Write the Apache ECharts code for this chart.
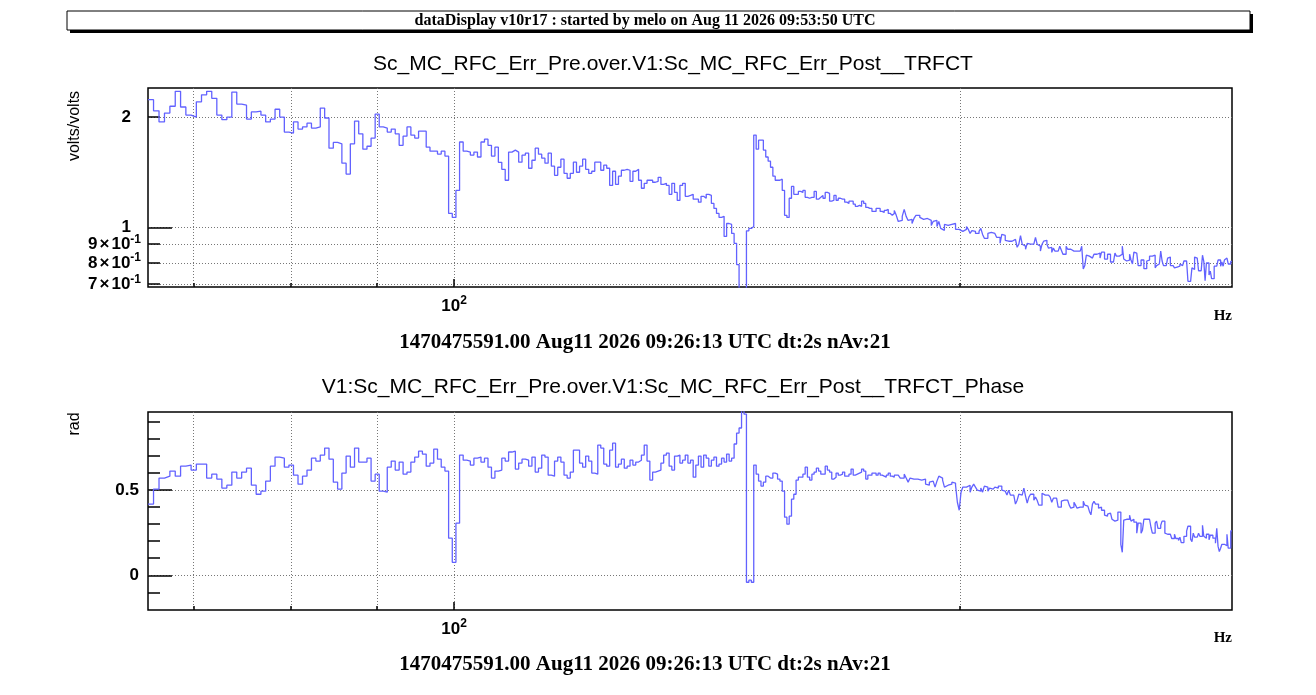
<!DOCTYPE html>
<html>
<head>
    <meta charset="utf-8">
    <title>dataDisplay</title>
    <script src="https://cdn.jsdelivr.net/npm/echarts@6/dist/echarts.min.js"></script>
    <style>html, body { margin: 0; padding: 0; background: #fff; }</style>
</head>
<body>
    <div id="main" style="width: 1316px;height:695px;"></div>
    <script type="text/javascript">

// histogram bins: 0.5 Hz wide, first bin starts at 65.75 Hz
var binStart = 65.75;
var binWidth = 0.5;

// tick / grid positions
var xGridShort = [70, 80, 90, 200];
var xGridLong = [100];
var magTicksMajor = [1];
var magTicksMinor = [0.7, 0.8, 0.9, 2];
var phaseTicksMajor = [0, 0.5];
var phaseTicksMinor = [-0.1, 0.1, 0.2, 0.3, 0.4, 0.6, 0.7, 0.8, 0.9];

// texts
var headerText = 'dataDisplay v10r17 : started by melo on Aug 11 2026 09:53:50 UTC';
var magTitle = 'Sc_MC_RFC_Err_Pre.over.V1:Sc_MC_RFC_Err_Post__TRFCT';
var phaseTitle = 'V1:Sc_MC_RFC_Err_Pre.over.V1:Sc_MC_RFC_Err_Post__TRFCT_Phase';
var footerText = '1470475591.00 Aug11 2026 09:26:13 UTC dt:2s nAv:21';

// magnitude (volts/volts), one value per bin
var magnitude = [
    2.23, 2.08, 1.94, 2.05, 2.14, 2.35, 2.13, 2.025, 2.0, 2.20,
    2.30, 2.35, 2.25, 2.025, 1.967, 2.0, 2.34, 2.17, 2.155, 1.975,
    2.065, 2.075, 2.025, 1.94, 1.975, 2.10, 2.0, 1.82, 1.808, 1.94,
    1.855, 1.88, 1.925, 1.866, 1.88, 2.116, 1.988, 1.645, 1.705, 1.69,
    1.497, 1.398, 1.69, 1.95, 1.80, 1.635, 1.665, 1.752, 2.037, 1.88,
    1.866, 1.82, 1.855, 1.80, 1.675, 1.774, 1.88, 1.785, 1.752, 1.83,
    1.83, 1.655, 1.614, 1.614, 1.585, 1.614, 1.565, 1.092, 1.065, 1.262,
    1.71, 1.614, 1.605, 1.575, 1.605, 1.556, 1.71, 1.74, 1.675, 1.565,
    1.655, 1.505, 1.44, 1.345, 1.605, 1.625, 1.605, 1.506, 1.574, 1.594,
    1.45, 1.525, 1.645, 1.584, 1.545, 1.497, 1.594, 1.469, 1.387, 1.459,
    1.535, 1.405, 1.362, 1.405, 1.506, 1.414, 1.469, 1.535, 1.44, 1.405,
    1.423, 1.506, 1.506, 1.432, 1.478, 1.45, 1.302, 1.423, 1.31, 1.38,
    1.432, 1.44, 1.432, 1.336, 1.423, 1.44, 1.345, 1.279, 1.319, 1.345,
    1.345, 1.328, 1.336, 1.37, 1.31, 1.319, 1.302, 1.231, 1.319, 1.246,
    1.185, 1.302, 1.319, 1.216, 1.223, 1.231, 1.194, 1.194, 1.172, 1.216,
    1.201, 1.231, 1.223, 1.163, 1.127, 1.092, 1.065, 1.072, 0.945, 1.025,
    1.019, 0.963, 0.905, 0.792, 0.5, 0.5, 0.5, 0.979, 0.994, 1.006,
    1.786, 1.635, 1.73, 1.73, 1.625, 1.556, 1.516, 1.459, 1.38, 1.345,
    1.345, 1.354, 1.262, 1.079, 1.065, 1.201, 1.294, 1.231, 1.231, 1.254,
    1.246, 1.262, 1.208, 1.201, 1.208, 1.208, 1.254, 1.194, 1.208, 1.223,
    1.201, 1.246, 1.238, 1.179, 1.186, 1.223, 1.186, 1.201, 1.194, 1.194,
    1.172, 1.163, 1.179, 1.179, 1.157, 1.142, 1.149, 1.142, 1.179, 1.163,
    1.134, 1.127, 1.127, 1.106, 1.106, 1.127, 1.127, 1.106, 1.099, 1.113,
    1.12, 1.092, 1.079, 1.092, 1.113, 1.079, 1.038, 1.045, 1.072, 1.12,
    1.072, 1.045, 1.052, 1.025, 1.058, 1.079, 1.079, 1.065, 1.052, 1.065,
    1.058, 1.045, 1.045, 1.013, 1.038, 1.045, 1.006, 1.038, 0.994, 0.982,
    1.019, 1.013, 1.013, 1.019, 1.013, 1.025, 0.988, 0.988, 0.982, 0.976,
    0.976, 0.988, 1.006, 0.988, 0.963, 0.98, 0.976, 0.963, 0.963, 0.976,
    0.994, 0.957, 0.934, 0.934, 0.963, 0.97, 0.97, 0.963, 0.951, 0.94,
    0.94, 0.905, 0.957, 0.951, 0.922, 0.917, 0.917, 0.917, 0.922, 0.928,
    0.917, 0.883, 0.90, 0.95, 0.90, 0.889, 0.872, 0.905, 0.90, 0.90,
    0.90, 0.905, 0.94, 0.90, 0.889, 0.862, 0.90, 0.917, 0.922, 0.90,
    0.878, 0.883, 0.855, 0.878, 0.862, 0.862, 0.862, 0.889, 0.867, 0.845,
    0.845, 0.889, 0.872, 0.872, 0.862, 0.862, 0.862, 0.862, 0.872, 0.862,
    0.862, 0.889, 0.77, 0.787, 0.84, 0.835, 0.835, 0.825, 0.835, 0.845,
    0.845, 0.851, 0.851, 0.825, 0.856, 0.856, 0.82, 0.82, 0.845, 0.845,
    0.805, 0.805, 0.805, 0.851, 0.835, 0.835, 0.845, 0.845, 0.889, 0.82,
    0.81, 0.815, 0.815, 0.845, 0.815, 0.795, 0.856, 0.851, 0.851, 0.787,
    0.787, 0.815, 0.815, 0.772, 0.772, 0.81, 0.815, 0.835, 0.835, 0.84,
    0.84, 0.776, 0.787, 0.795, 0.795, 0.862, 0.81, 0.787, 0.787, 0.787,
    0.825, 0.83, 0.787, 0.787, 0.78, 0.776, 0.78, 0.78, 0.784, 0.795,
    0.787, 0.787, 0.81, 0.81, 0.81, 0.713, 0.713, 0.713, 0.776, 0.768,
    0.83, 0.825, 0.825, 0.762, 0.762, 0.76, 0.84, 0.808, 0.716, 0.80,
    0.80, 0.742, 0.76, 0.725, 0.725, 0.784, 0.784, 0.784, 0.815, 0.815,
    0.784, 0.805, 0.784, 0.815, 0.825, 0.825, 0.795, 0.795, 0.808
];

// phase (rad), one value per bin
var phase = [
    0.418, 0.506, 0.571, 0.582, 0.612, 0.582, 0.641, 0.647, 0.618, 0.653,
    0.653, 0.571, 0.594, 0.565, 0.512, 0.529, 0.606, 0.571, 0.606, 0.629,
    0.529, 0.476, 0.494, 0.553, 0.641, 0.694, 0.688, 0.635, 0.647, 0.588,
    0.535, 0.582, 0.618, 0.688, 0.671, 0.706, 0.747, 0.682, 0.547, 0.506,
    0.60, 0.70, 0.635, 0.747, 0.665, 0.665, 0.688, 0.553, 0.594, 0.494,
    0.488, 0.635, 0.671, 0.618, 0.665, 0.594, 0.606, 0.665, 0.694, 0.729,
    0.712, 0.641, 0.659, 0.741, 0.682, 0.635, 0.612, 0.218, 0.076, 0.306,
    0.706, 0.676, 0.671, 0.647, 0.688, 0.694, 0.665, 0.688, 0.635, 0.571,
    0.612, 0.618, 0.688, 0.671, 0.724, 0.729, 0.624, 0.659, 0.682, 0.676,
    0.641, 0.694, 0.606, 0.629, 0.706, 0.694, 0.588, 0.582, 0.671, 0.694,
    0.665, 0.588, 0.571, 0.606, 0.735, 0.735, 0.659, 0.635, 0.70, 0.671,
    0.60, 0.594, 0.765, 0.747, 0.653, 0.641, 0.735, 0.776, 0.635, 0.653,
    0.682, 0.629, 0.641, 0.676, 0.647, 0.665, 0.676, 0.706, 0.765, 0.671,
    0.559, 0.606, 0.612, 0.618, 0.659, 0.706, 0.718, 0.641, 0.618, 0.70,
    0.706, 0.659, 0.676, 0.706, 0.659, 0.676, 0.576, 0.647, 0.70, 0.635,
    0.706, 0.688, 0.641, 0.676, 0.694, 0.641, 0.653, 0.688, 0.665, 0.712,
    0.671, 0.688, 0.771, 0.835, 0.865, 1.0, 0.947, -0.041, -0.029, -0.041,
    0.647, 0.594, 0.553, 0.524, 0.547, 0.582, 0.571, 0.571, 0.60, 0.594,
    0.565, 0.553, 0.494, 0.341, 0.30, 0.347, 0.447, 0.476, 0.559, 0.576,
    0.576, 0.594, 0.635, 0.576, 0.559, 0.594, 0.606, 0.629, 0.612, 0.594,
    0.594, 0.641, 0.618, 0.606, 0.565, 0.576, 0.60, 0.588, 0.594, 0.606,
    0.582, 0.582, 0.594, 0.624, 0.588, 0.594, 0.60, 0.606, 0.624, 0.612,
    0.565, 0.588, 0.588, 0.60, 0.60, 0.588, 0.60, 0.588, 0.582, 0.576,
    0.588, 0.60, 0.582, 0.576, 0.588, 0.588, 0.582, 0.571, 0.571, 0.594,
    0.571, 0.547, 0.571, 0.565, 0.559, 0.565, 0.576, 0.559, 0.565, 0.565,
    0.535, 0.529, 0.547, 0.553, 0.547, 0.518, 0.553, 0.582, 0.571, 0.559,
    0.518, 0.529, 0.529, 0.535, 0.547, 0.541, 0.529, 0.429, 0.382, 0.488,
    0.518, 0.518, 0.529, 0.529, 0.488, 0.518, 0.535, 0.518, 0.50, 0.494,
    0.512, 0.488, 0.524, 0.518, 0.494, 0.512, 0.506, 0.506, 0.518, 0.512,
    0.524, 0.524, 0.50, 0.494, 0.488, 0.471, 0.50, 0.471, 0.471, 0.471,
    0.418, 0.441, 0.476, 0.471, 0.471, 0.512, 0.465, 0.424, 0.459, 0.476,
    0.476, 0.441, 0.459, 0.441, 0.412, 0.412, 0.482, 0.471, 0.476, 0.471,
    0.471, 0.459, 0.429, 0.453, 0.453, 0.453, 0.40, 0.40, 0.435, 0.441,
    0.447, 0.441, 0.441, 0.412, 0.394, 0.40, 0.429, 0.412, 0.394, 0.40,
    0.40, 0.40, 0.435, 0.412, 0.406, 0.406, 0.375, 0.355, 0.418, 0.435,
    0.418, 0.418, 0.394, 0.40, 0.382, 0.382, 0.353, 0.347, 0.359, 0.365,
    0.365, 0.329, 0.318, 0.324, 0.324, 0.371, 0.371, 0.182, 0.135, 0.324,
    0.329, 0.329, 0.329, 0.353, 0.318, 0.329, 0.312, 0.312, 0.247, 0.306,
    0.306, 0.247, 0.265, 0.329, 0.329, 0.324, 0.329, 0.329, 0.282, 0.247,
    0.247, 0.306, 0.318, 0.276, 0.276, 0.294, 0.318, 0.318, 0.247, 0.241,
    0.241, 0.241, 0.241, 0.216, 0.216, 0.241, 0.216, 0.216, 0.204, 0.224,
    0.192, 0.192, 0.229, 0.229, 0.259, 0.288, 0.288, 0.212, 0.198, 0.247,
    0.224, 0.224, 0.224, 0.247, 0.229, 0.229, 0.294, 0.229, 0.218, 0.241,
    0.241, 0.208, 0.235, 0.235, 0.218, 0.218, 0.188, 0.276, 0.171, 0.139,
    0.159, 0.182, 0.182, 0.173, 0.173, 0.241, 0.159, 0.159, 0.261
];

// axis ranges
var xMin = 65.75, xMax = 290.25;
var magMin = 0.688, magMax = 2.40;
var phaseMin = -0.204, phaseMax = 0.959;

var sans = '"Liberation Sans", Arial, sans-serif';
var serif = '"Liberation Serif", "Times New Roman", serif';
var lineColor = '#6262ff';

// turn the per-bin values into [bin start, value] points for a step line
function steps(values) {
    var pts = values.map(function (v, i) { return [binStart + i * binWidth, v]; });
    pts.push([binStart + values.length * binWidth, values[values.length - 1]]);
    return pts;
}

var gridLine = { show: true, lineStyle: { color: '#777', type: [1, 2], width: 1 } };
var tickRich = {
    b: { fontFamily: sans, fontWeight: 'bold', fontSize: 17, color: '#000', lineHeight: 22 },
    x: { fontFamily: sans, fontWeight: 'bold', fontSize: 17, color: '#000', lineHeight: 22, padding: [0, 2, 0, 2] },
    s: { fontFamily: sans, fontWeight: 'bold', fontSize: 12, color: '#000', lineHeight: 22, verticalAlign: 'top' },
    gap: { width: 10 }
};

function xAxes(gridIndex) {
    return [{
        gridIndex: gridIndex, type: 'log', logBase: 10, min: xMin, max: xMax, position: 'bottom',
        axisLine: { show: false, onZero: false },
        axisTick: { show: true, inside: true, length: 4, customValues: xGridShort, lineStyle: { color: '#000', width: 1.5 } },
        axisLabel: { show: false },
        splitLine: gridLine
    }, {
        gridIndex: gridIndex, type: 'log', logBase: 10, min: xMin, max: xMax, position: 'bottom',
        axisLine: { show: false, onZero: false },
        axisTick: { show: true, inside: true, length: 8, customValues: xGridLong, lineStyle: { color: '#000', width: 1.5 } },
        axisLabel: {
            show: true, customValues: xGridLong, margin: 8,
            formatter: function () { return '{b|10}{s|2}'; },
            rich: tickRich
        },
        splitLine: gridLine
    }];
}

var myChart = echarts.init(document.getElementById('main'));

var option = {
    backgroundColor: '#fff',
    animation: false,
    grid: [
        { left: 148, right: 84, top: 88, height: 199, show: true, borderColor: '#000', borderWidth: 1.5, backgroundColor: 'transparent' },
        { left: 148, right: 84, top: 412, height: 198, show: true, borderColor: '#000', borderWidth: 1.5, backgroundColor: 'transparent' }
    ],
    xAxis: xAxes(0).concat(xAxes(1)),
    yAxis: [{
        gridIndex: 0, type: 'log', logBase: 10, min: magMin, max: magMax, position: 'left',
        axisLine: { show: false, onZero: false },
        axisTick: { show: true, inside: true, length: 24, customValues: magTicksMajor, lineStyle: { color: '#000', width: 1.5 } },
        axisLabel: {
            customValues: magTicksMajor, margin: 7,
            formatter: function () { return '{b|1}{gap|}'; },
            rich: tickRich
        },
        splitLine: gridLine
    }, {
        gridIndex: 0, type: 'log', logBase: 10, min: magMin, max: magMax, position: 'left',
        axisLine: { show: false, onZero: false },
        axisTick: { show: true, inside: true, length: 12, customValues: magTicksMinor, lineStyle: { color: '#000', width: 1.5 } },
        axisLabel: {
            customValues: magTicksMinor, margin: 7,
            formatter: function (v) {
                if (v > 1.5) return '{b|2}{gap|}';
                return '{b|' + Math.round(v * 10) + '}{x|\u00d7}{b|10}{s|-1}';
            },
            rich: tickRich
        },
        splitLine: gridLine
    }, {
        gridIndex: 1, type: 'value', min: phaseMin, max: phaseMax, position: 'left',
        axisLine: { show: false, onZero: false },
        axisTick: { show: true, inside: true, length: 24, customValues: phaseTicksMajor, lineStyle: { color: '#000', width: 1.5 } },
        axisLabel: {
            customValues: phaseTicksMajor, margin: 9,
            formatter: function (v) { return '{b|' + (Math.abs(v) < 1e-9 ? '0' : v) + '}'; },
            rich: tickRich
        },
        splitLine: gridLine
    }, {
        gridIndex: 1, type: 'value', min: phaseMin, max: phaseMax, position: 'left',
        axisLine: { show: false, onZero: false },
        axisTick: { show: true, inside: true, length: 12, customValues: phaseTicksMinor, lineStyle: { color: '#000', width: 1.5 } },
        axisLabel: { show: false },
        splitLine: { show: false }
    }],
    series: [{
        type: 'line', xAxisIndex: 0, yAxisIndex: 0,
        data: steps(magnitude), step: 'end', symbol: 'none', clip: true,
        lineStyle: { color: lineColor, width: 1.3 }
    }, {
        type: 'line', xAxisIndex: 2, yAxisIndex: 2,
        data: steps(phase), step: 'end', symbol: 'none', clip: true,
        lineStyle: { color: lineColor, width: 1.3 }
    }],
    graphic: [
        { type: 'rect', shape: { x: 70, y: 14, width: 1183, height: 19 }, style: { fill: '#000' } },
        { type: 'rect', shape: { x: 67, y: 11, width: 1183, height: 19 }, style: { fill: '#fff', stroke: '#000', lineWidth: 1 } },
        { type: 'text', x: 645, y: 21, style: { text: headerText, font: 'bold 16px ' + serif, textAlign: 'center', textVerticalAlign: 'middle', fill: '#000' } },
        { type: 'text', x: 673, y: 64, style: { text: magTitle, font: '21px ' + sans, textAlign: 'center', textVerticalAlign: 'middle', fill: '#000' } },
        { type: 'text', x: 673, y: 387, style: { text: phaseTitle, font: '21px ' + sans, textAlign: 'center', textVerticalAlign: 'middle', fill: '#000' } },
        { type: 'text', x: 75, y: 126, rotation: Math.PI / 2, style: { text: 'volts/volts', font: '16px ' + sans, textAlign: 'center', textVerticalAlign: 'middle', fill: '#000' } },
        { type: 'text', x: 75, y: 424, rotation: Math.PI / 2, style: { text: 'rad', font: '16px ' + sans, textAlign: 'center', textVerticalAlign: 'middle', fill: '#000' } },
        { type: 'text', x: 1232, y: 316, style: { text: 'Hz', font: 'bold 15px ' + serif, textAlign: 'right', textVerticalAlign: 'middle', fill: '#000' } },
        { type: 'text', x: 1232, y: 638, style: { text: 'Hz', font: 'bold 15px ' + serif, textAlign: 'right', textVerticalAlign: 'middle', fill: '#000' } },
        { type: 'text', x: 645, y: 343, style: { text: footerText, font: 'bold 21px ' + serif, textAlign: 'center', textVerticalAlign: 'middle', fill: '#000' } },
        { type: 'text', x: 645, y: 665, style: { text: footerText, font: 'bold 21px ' + serif, textAlign: 'center', textVerticalAlign: 'middle', fill: '#000' } }
    ]
};

myChart.setOption(option);

    </script>
</body>
</html>
